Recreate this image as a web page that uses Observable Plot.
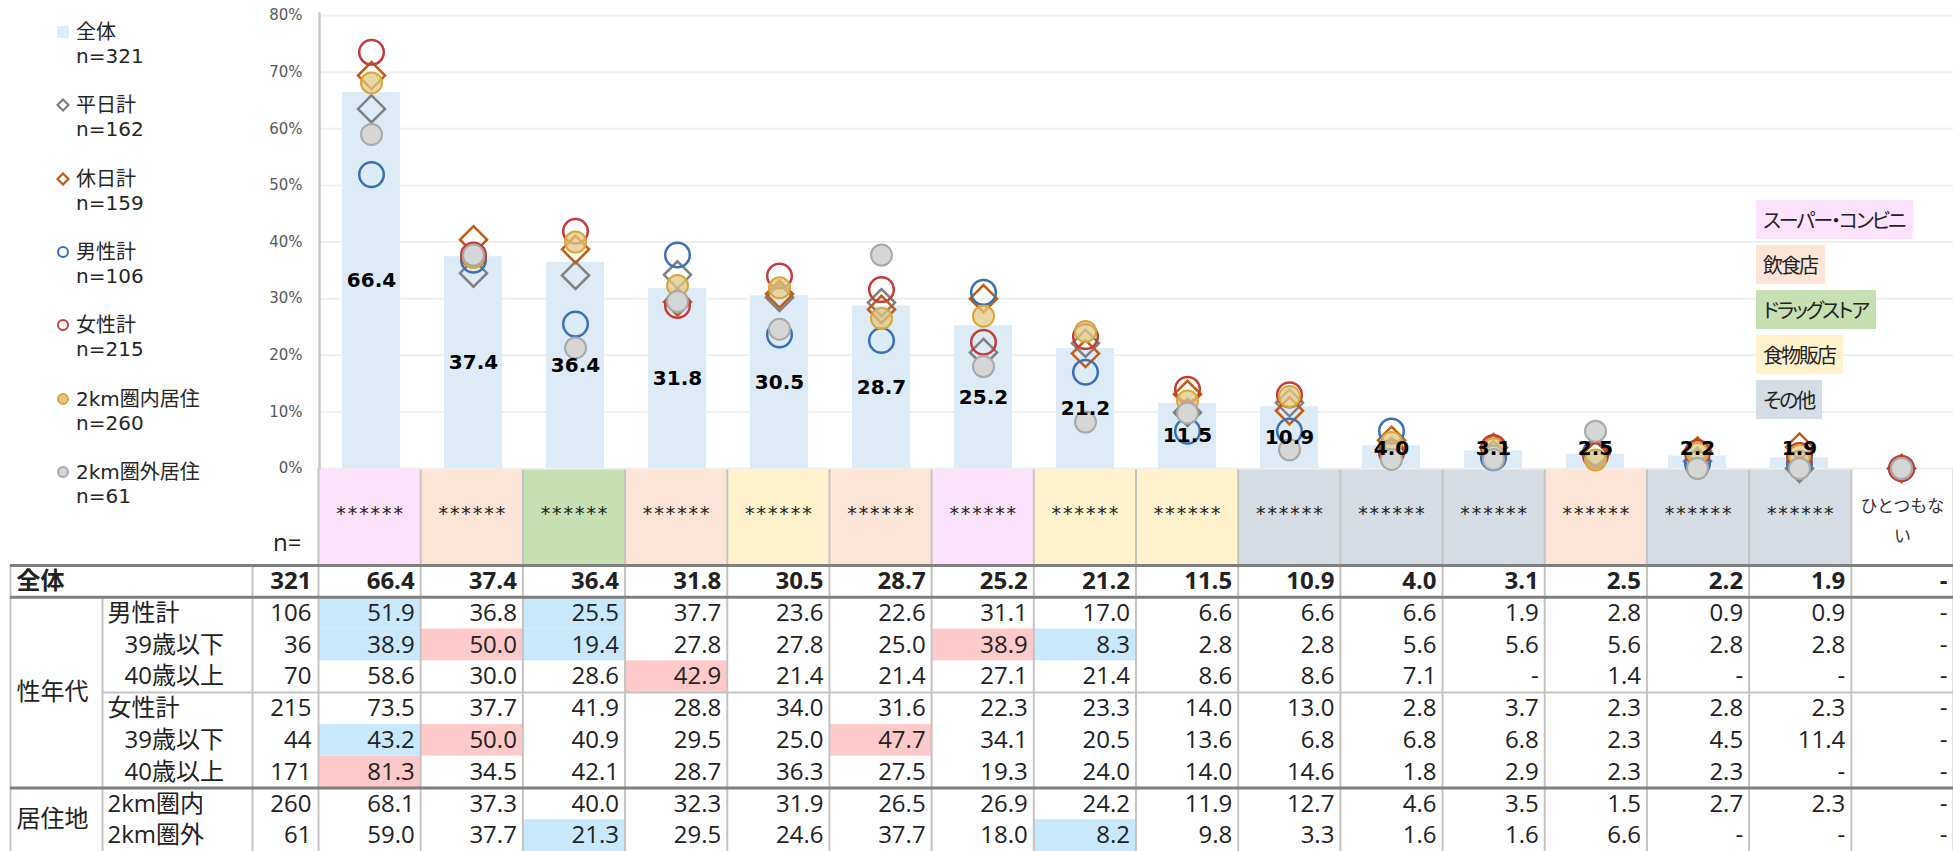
<!DOCTYPE html>
<html lang="ja">
<head>
<meta charset="utf-8">
<script src="https://cdn.jsdelivr.net/npm/d3@7"></script>
<script src="https://cdn.jsdelivr.net/npm/@observablehq/plot@0.6"></script>
<style>
html,body{margin:0;padding:0;background:#fff;}
#wrap{position:relative;width:1953px;height:851px;overflow:hidden;font-family:"Noto Sans CJK JP",sans-serif;}
.leg{position:absolute;left:76px;font-family:"DejaVu Sans","Noto Sans CJK JP",sans-serif;font-size:20px;line-height:24px;color:#262626;white-space:nowrap;z-index:6;}
.legicon{position:absolute;left:56px;width:14px;height:14px;z-index:6;}
#types{position:absolute;left:1756px;top:200px;display:flex;flex-direction:column;align-items:flex-start;gap:6px;z-index:6;}
#types div{height:39px;line-height:39px;padding:0 8px 0 7px;font-size:20px;letter-spacing:-2px;font-feature-settings:"palt";color:#222;font-family:"Noto Sans CJK JP",sans-serif;}
</style>
</head>
<body>
<div id="wrap"></div>
<script>
// ---------------- DATA ----------------
const categories = ["******","******","******","******","******","******","******","******","******","******","******","******","******","******","******","ひとつもない"];
const categoryTypes = ["スーパー・コンビニ","飲食店","ドラッグストア","飲食店","食物販店","飲食店","スーパー・コンビニ","食物販店","食物販店","その他","その他","その他","飲食店","その他","その他",""];
const typeNames = ["スーパー・コンビニ","飲食店","ドラッグストア","食物販店","その他"];
const typeColors = ["#fde2fb","#fce4d6","#c6e0b4","#fff2cc","#d6dce4"];

const totalPct   = [66.4,37.4,36.4,31.8,30.5,28.7,25.2,21.2,11.5,10.9,4.0,3.1,2.5,2.2,1.9,null];
const weekdayPct = [63.5,34.5,34.1,34.2,30.2,29.3,20.5,22.1,9.9,11.6,3.0,2.5,2.5,1.3,0,0];
const holidayPct = [69.4,40.4,38.7,29.4,30.8,28.1,30.0,20.3,13.1,10.2,5.0,3.7,2.5,3.1,3.8,0];

const rowIds    = ["total","m","m39","m40","f","f39","f40","in","out"];
const rowLabels = ["全体","男性計","39歳以下","40歳以上","女性計","39歳以下","40歳以上","2km圏内","2km圏外"];
const rowN      = [321,106,36,70,215,44,171,260,61];
const rowMale     = [51.9,36.8,25.5,37.7,23.6,22.6,31.1,17.0,6.6,6.6,6.6,1.9,2.8,0.9,0.9,null];
const rowMale39   = [38.9,50.0,19.4,27.8,27.8,25.0,38.9,8.3,2.8,2.8,5.6,5.6,5.6,2.8,2.8,null];
const rowMale40   = [58.6,30.0,28.6,42.9,21.4,21.4,27.1,21.4,8.6,8.6,7.1,null,1.4,null,null,null];
const rowFemale   = [73.5,37.7,41.9,28.8,34.0,31.6,22.3,23.3,14.0,13.0,2.8,3.7,2.3,2.8,2.3,null];
const rowFemale39 = [43.2,50.0,40.9,29.5,25.0,47.7,34.1,20.5,13.6,6.8,6.8,6.8,2.3,4.5,11.4,null];
const rowFemale40 = [81.3,34.5,42.1,28.7,36.3,27.5,19.3,24.0,14.0,14.6,1.8,2.9,2.3,2.3,null,null];
const rowIn2km    = [68.1,37.3,40.0,32.3,31.9,26.5,26.9,24.2,11.9,12.7,4.6,3.5,1.5,2.7,2.3,null];
const rowOut2km   = [59.0,37.7,21.3,29.5,24.6,37.7,18.0,8.2,9.8,3.3,1.6,1.6,6.6,null,null,null];

const highlightHigh = [["m39",1],["m39",6],["m40",3],["f39",1],["f39",5],["f40",0]];
const highlightLow  = [["m",0],["m",2],["m39",0],["m39",2],["m39",7],["f39",0],["out",2],["out",7]];

const groupLabels = ["性年代","居住地"];
const groupRows   = [["m","f40"],["in","out"]];

const legendNames = ["全体","平日計","休日計","男性計","女性計","2km圏内居住","2km圏外居住"];
const legendN     = [321,162,159,106,215,260,61];

const yTicks = [0,10,20,30,40,50,60,70,80];

// ---------------- LAYOUT / STYLE ----------------
const W = 1953, plotLeft = 319, chartBottom = 468, tableTop = 565, H = 851;
const idx = d3.range(16);
const tableData = [totalPct, rowMale, rowMale39, rowMale40, rowFemale, rowFemale39, rowFemale40, rowIn2km, rowOut2km];
const typeColor = t => { const k = typeNames.indexOf(t); return k < 0 ? "#ffffff" : typeColors[k]; };
const fmt = v => v == null ? "-" : v.toFixed(1);
const z = v => v == null ? 0 : v;

const markerSeries = [
  {values: weekdayPct, symbol: "diamond2", r: 12.2, stroke: "#808080", fill: "none", sw: 2.5},
  {values: holidayPct, symbol: "diamond2", r: 12.2, stroke: "#c55a11", fill: "none", sw: 2.5},
  {values: rowMale,    symbol: "circle", r: 12.3, stroke: "#3a70b6", fill: "none", sw: 2.5},
  {values: rowFemale,  symbol: "circle", r: 12.3, stroke: "#c43c3c", fill: "none", sw: 2.5},
  {values: rowIn2km,   symbol: "circle", r: 10.5, stroke: "#d6a935", fill: "#e0c886", fo: 0.75, sw: 2},
  {values: rowOut2km,  symbol: "circle", r: 10.5, stroke: "#a8a8a8", fill: "#d6d6d6", fo: 1, sw: 2}
];
const legendIcons = [
  {shape: "square", fill: "#ddebf7"},
  {shape: "diamond", stroke: "#808080"},
  {shape: "diamond", stroke: "#c55a11"},
  {shape: "circle", stroke: "#3a70b6"},
  {shape: "circle", stroke: "#c43c3c"},
  {shape: "circle", stroke: "#d6a935", fill: "#e0c886"},
  {shape: "circle", stroke: "#a8a8a8", fill: "#d6d6d6"}
];

const wrap = document.getElementById("wrap");

// ---------------- CHART ----------------
const chart = Plot.plot({
  width: W, height: 500,
  marginLeft: plotLeft, marginRight: 0, marginTop: 15, marginBottom: 500 - chartBottom,
  style: {background: "transparent", overflow: "visible", fontFamily: "DejaVu Sans, Noto Sans CJK JP, sans-serif"},
  x: {type: "band", domain: idx, paddingInner: 0.43, paddingOuter: 0.215, axis: null},
  y: {domain: [0, 80], axis: null},
  marks: [
    Plot.gridY(yTicks, {stroke: "#efefef", strokeOpacity: 1, strokeWidth: 2}),
    Plot.frame({anchor: "left", stroke: "#c8c8c8", strokeWidth: 2.5, insetTop: -2}),
    Plot.axisY(yTicks, {tickSize: 0, tickPadding: 17, tickFormat: d => d + "%", fontSize: 15, fill: "#595959"}),
    Plot.barY(idx.filter(i => totalPct[i] != null), {x: i => i, y: i => totalPct[i], fill: "#ddebf7"}),
    ...markerSeries.map(s => Plot.dot(idx, {
      x: i => i, y: i => z(s.values[i]), symbol: s.symbol, r: s.r,
      stroke: s.stroke, strokeWidth: s.sw, fill: s.fill, fillOpacity: s.fo ?? 1
    })),
    Plot.text(idx.filter(i => totalPct[i] != null), {
      x: i => i, y: i => Math.max(totalPct[i] / 2, 3.6), text: i => fmt(totalPct[i]),
      fontSize: 20, fontWeight: "bold", fill: "#000"
    })
  ]
});
chart.style.position = "absolute"; chart.style.left = "0px"; chart.style.top = "0px"; chart.style.zIndex = 4;

// ---------------- CATEGORY HEADER ROW ----------------
const header = Plot.plot({
  width: W, height: tableTop - chartBottom,
  marginLeft: plotLeft - 1, marginRight: 0, marginTop: 0, marginBottom: 0,
  style: {background: "transparent", overflow: "visible", fontFamily: "Noto Sans CJK JP, sans-serif"},
  x: {domain: [0, 16], axis: null},
  y: {domain: [0, 1], axis: null},
  marks: [
    Plot.rect(idx, {x1: i => i, x2: i => i + 1, y1: 0, y2: 1, fill: i => typeColor(categoryTypes[i])}),
    Plot.ruleX(d3.range(17), {stroke: "#c3c3c3", strokeWidth: 2}),
    Plot.text(idx.filter(i => categories[i] === "******"), {
      x: i => i + 0.5, y: 0.5, text: i => categories[i], dy: -3,
      fontSize: 19, fontFamily: "DejaVu Sans Mono", fill: "#222"
    }),
    Plot.text(idx.filter(i => categories[i] !== "******"), {
      x: i => i + 0.5, y: 0.5, text: i => categories[i].slice(0, 5) + "\n" + categories[i].slice(5),
      lineHeight: 1.8, fontSize: 17, fill: "#333"
    }),
    Plot.text(["n="], {frameAnchor: "bottom-left", text: d => d, dx: -17, dy: -15, textAnchor: "end", fontSize: 24, fontFamily: "Open Sans", fill: "#222"})
  ]
});
header.style.position = "absolute"; header.style.left = "0px"; header.style.top = chartBottom + "px"; header.style.zIndex = 1;

// ---------------- TABLE ----------------
const rowIndex = id => rowIds.indexOf(id);
const cells = [];
tableData.forEach((arr, r) => arr.forEach((v, c) => cells.push({r, c, v})));
const hl = [...highlightHigh.map(([id, c]) => ({r: rowIndex(id), c, f: "#fdc9c9"})),
            ...highlightLow.map(([id, c]) => ({r: rowIndex(id), c, f: "#c9e8fb"}))];
const rIdx = d3.range(rowIds.length);
const numFont = "Open Sans, Noto Sans CJK JP, sans-serif";
const table = Plot.plot({
  width: W, height: H - tableTop,
  marginLeft: plotLeft - 1, marginRight: 0, marginTop: 0, marginBottom: 0,
  style: {background: "transparent", overflow: "visible", fontFamily: numFont, color: "#222"},
  x: {domain: [0, 16], axis: null},
  y: {domain: [0, rowIds.length], range: [0, (H - tableTop)], axis: null},
  marks: [
    Plot.rect(hl, {x1: d => d.c, x2: d => d.c + 1, y1: d => d.r, y2: d => d.r + 1, fill: d => d.f}),
    Plot.ruleX(d3.range(17), {stroke: "#c3c3c3", strokeWidth: 2}),
    Plot.ruleX([0], {dx: -66, stroke: "#c3c3c3", strokeWidth: 2}),
    Plot.ruleX([0], {dx: -216, y1: 1, y2: rowIds.length, stroke: "#c3c3c3", strokeWidth: 2}),
    Plot.ruleX([0], {dx: -308, stroke: "#c3c3c3", strokeWidth: 2}),
    Plot.ruleY([rowIndex("f")], {insetLeft: -216, stroke: "#c3c3c3", strokeWidth: 2}),
    Plot.ruleY([0, 1, rowIndex("in")], {insetLeft: -308, stroke: "#7f7f7f", strokeWidth: 3}),
    Plot.text(cells.filter(d => d.r === 0), {x: d => d.c + 1, y: d => d.r + 0.5, text: d => fmt(d.v), textAnchor: "end", dx: -6, fontSize: 24, fontWeight: "bold"}),
    Plot.text(cells.filter(d => d.r > 0), {x: d => d.c + 1, y: d => d.r + 0.5, text: d => fmt(d.v), textAnchor: "end", dx: -6, fontSize: 24}),
    Plot.text([0], {y: r => r + 0.5, text: r => rowLabels[r], frameAnchor: "left", dx: -302, textAnchor: "start", fontSize: 24, fontWeight: "bold"}),
    Plot.text(rIdx.filter(r => ["m","f","in","out"].includes(rowIds[r])), {y: r => r + 0.5, text: r => rowLabels[r], frameAnchor: "left", dx: -211, textAnchor: "start", fontSize: 24}),
    Plot.text(rIdx.filter(r => ["m39","m40","f39","f40"].includes(rowIds[r])), {y: r => r + 0.5, text: r => rowLabels[r], frameAnchor: "left", dx: -194, textAnchor: "start", fontSize: 24}),
    Plot.text([0], {y: r => r + 0.5, text: r => rowN[r], frameAnchor: "left", dx: -7, textAnchor: "end", fontSize: 24, fontWeight: "bold"}),
    Plot.text(rIdx.filter(r => r > 0), {y: r => r + 0.5, text: r => rowN[r], frameAnchor: "left", dx: -7, textAnchor: "end", fontSize: 24}),
    Plot.text(groupLabels.map((g, k) => k), {
      y: k => (rowIndex(groupRows[k][0]) + rowIndex(groupRows[k][1]) + 1) / 2,
      text: k => groupLabels[k], frameAnchor: "left", dx: -302, textAnchor: "start", fontSize: 24
    })
  ]
});
table.style.position = "absolute"; table.style.left = "0px"; table.style.top = tableTop + "px"; table.style.zIndex = 2;

wrap.append(header, table, chart);

// ---------------- SERIES LEGEND (left) ----------------
legendNames.forEach((name, k) => {
  const cy = 32 + k * 73.3;
  const d = document.createElement("div");
  d.className = "leg";
  d.style.top = (cy - 12) + "px";
  d.innerHTML = name + "<br>n=" + legendN[k];
  wrap.append(d);
  const st = legendIcons[k];
  const svg = d3.create("svg").attr("class", "legicon").attr("width", 14).attr("height", 14)
    .style("top", (cy - 7) + "px");
  if (st.shape === "square") svg.append("rect").attr("x", 1).attr("y", 1).attr("width", 12).attr("height", 12).attr("fill", st.fill);
  else if (st.shape === "diamond") svg.append("path").attr("d", "M7,1.5L12.5,7L7,12.5L1.5,7Z").attr("fill", "none").attr("stroke", st.stroke).attr("stroke-width", 2.2);
  else svg.append("circle").attr("cx", 7).attr("cy", 7).attr("r", 5).attr("fill", st.fill || "none").attr("stroke", st.stroke).attr("stroke-width", 2);
  wrap.append(svg.node());
});

// ---------------- CATEGORY TYPE LEGEND (right) ----------------
const types = document.createElement("div");
types.id = "types";
typeNames.forEach((t, k) => {
  const b = document.createElement("div");
  b.textContent = t;
  b.style.background = typeColors[k];
  types.append(b);
});
wrap.append(types);
</script>
</body>
</html>
